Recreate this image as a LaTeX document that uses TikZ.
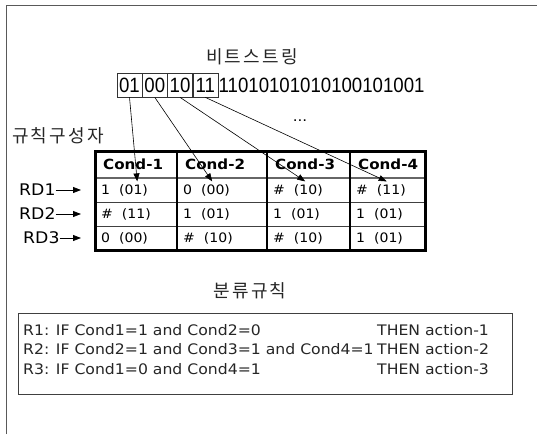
\documentclass[tikz,border=0pt]{standalone}
\usepackage{fontspec}
\usetikzlibrary{arrows.meta}
\newfontfamily\gl[FakeStretch=1.08]{DejaVu Sans}
\newfontfamily\bitf[FakeStretch=0.9]{Liberation Sans}
\newfontfamily\kr[LetterSpace=12]{Noto Sans CJK KR}
\newcommand\cellv[2]{#1\hspace{9pt}(#2)}
\begin{document}
\begin{tikzpicture}[x=1pt,y=-1pt,
  kor/.style={font=\kr\fontsize{18}{18}\selectfont, text=black!85, inner sep=0pt},
  bitbox/.style={draw=black!80, line width=0.8pt, minimum width=25pt, minimum height=24pt,
    inner sep=0pt, font=\bitf\fontsize{20.7}{22}\selectfont, text height=14.8pt, text depth=0pt},
  bitrest/.style={anchor=west, inner sep=0pt, font=\bitf\fontsize{20.7}{22}\selectfont,
    text height=14.8pt, text depth=0pt},
  hdr/.style={anchor=north west, minimum height=27pt, inner xsep=8pt, inner ysep=0pt,
    font=\gl\bfseries\fontsize{14}{14}\selectfont},
  cellt/.style={anchor=west, inner sep=0pt, font=\gl\fontsize{13}{13}\selectfont},
  rdlab/.style={anchor=west, inner sep=0pt, font=\gl\fontsize{16}{16}\selectfont},
  feed/.style={-{Triangle[length=8pt,width=6pt]}, line width=0.6pt},
  rdarrow/.style={-{Triangle[length=8pt,width=6pt]}, line width=0.8pt},
]
\useasboundingbox (0,0) rectangle (537,434);
\fill[white] (0,0) rectangle (537,434);

% outer frame (open to the right and bottom)
\draw[gray!70!black, line width=0.8pt] (6,434) -- (6,5) -- (537,5);

% titles
\node[kor] (title) at (252,57) {비트스트링};
\node[kor, anchor=west] (ruleparts) at (12,136) {규칙구성자};
\node[kor] (classtitle) at (250,291) {분류규칙};

% bit string with the first four pairs boxed
\node[bitbox] (b1) at (129.5,85) {01};
\node[bitbox] (b2) at (154.8,85) {00};
\node[bitbox] (b3) at (180.1,85) {10};
\node[bitbox] (b4) at (205.4,85) {11};
\node[bitrest] (brest) at (218.5,85) {11010101010100101001};
\node[inner sep=0pt, font=\gl\fontsize{14}{14}\selectfont] (dots) at (300,121) {...};

% condition table grid
\draw[black!75, line width=1pt] (95,202) -- (425,202) (95,226) -- (425,226);
\draw[black!60, line width=2.2pt] (95,178) -- (425,178);
\draw[black, line width=2.5pt] (177,151) -- (177,250) (267,151) -- (267,250) (350,151) -- (350,250);
\draw[black, line width=3pt] (95,151) rectangle (425,250);

% header cells
\node[hdr, minimum width=82pt] (h1) at (95,151) {\makebox[66pt][l]{Cond-1}};
\node[hdr, minimum width=90pt] (h2) at (177,151) {\makebox[74pt][l]{Cond-2}};
\node[hdr, minimum width=83pt] (h3) at (267,151) {\makebox[67pt][l]{Cond-3}};
\node[hdr, minimum width=75pt] (h4) at (350,151) {\makebox[59pt][l]{Cond-4}};

% pairs feeding the conditions
\draw[feed] (b1.south) -- ([xshift=1pt,yshift=-3pt]h1.south);
\draw[feed] (b2.south) -- ([xshift=-10pt,yshift=-3pt]h2.south);
\draw[feed] (b3.south) -- ([xshift=-3.5pt,yshift=-3pt]h3.south);
\draw[feed] (b4.south) -- ([xshift=-1pt,yshift=-3pt]h4.south);

% table body
\node[cellt] (c11) at (101,190) {\cellv{1}{01}};
\node[cellt] (c12) at (183,190) {\cellv{0}{00}};
\node[cellt] (c13) at (273,190) {\cellv{\#}{10}};
\node[cellt] (c14) at (356,190) {\cellv{\#}{11}};
\node[cellt] (c21) at (101,214) {\cellv{\#}{11}};
\node[cellt] (c22) at (183,214) {\cellv{1}{01}};
\node[cellt] (c23) at (273,214) {\cellv{1}{01}};
\node[cellt] (c24) at (356,214) {\cellv{1}{01}};
\node[cellt] (c31) at (101,238) {\cellv{0}{00}};
\node[cellt] (c32) at (183,238) {\cellv{\#}{10}};
\node[cellt] (c33) at (273,238) {\cellv{\#}{10}};
\node[cellt] (c34) at (356,238) {\cellv{1}{01}};

% row labels
\node[rdlab] (rd1) at (19,190) {RD1};
\node[rdlab] (rd2) at (19,214) {RD2};
\node[rdlab] (rd3) at (23,238) {RD3};
\coordinate (rd1e) at (81,190);
\coordinate (rd2e) at (81,214);
\coordinate (rd3e) at (81,238);
\draw[rdarrow] (rd1.east) -- (rd1e);
\draw[rdarrow] (rd2.east) -- (rd2e);
\draw[rdarrow] (rd3.east) -- (rd3e);

% classification rules
\node[draw=black!75, line width=0.8pt, anchor=north west, minimum width=494pt,
  minimum height=81pt, inner sep=0pt] (rulebox) at (17.6,313) {};
\node[anchor=west, inner sep=0pt, font=\gl\fontsize{14.5}{19.5}\selectfont, text=black!85] (rules) at (23,351)
{\begin{tabular}{@{}l@{}l@{}}
\makebox[354pt][l]{R1: IF Cond1=1 and Cond2=0} & THEN action-1\\
\makebox[354pt][l]{R2: IF Cond2=1 and Cond3=1 and Cond4=1} & THEN action-2\\
\makebox[354pt][l]{R3: IF Cond1=0 and Cond4=1} & THEN action-3
\end{tabular}};
\end{tikzpicture}
\end{document}
